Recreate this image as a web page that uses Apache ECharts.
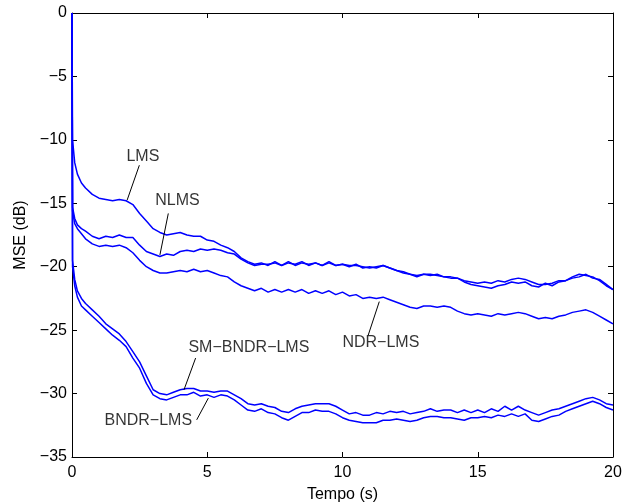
<!DOCTYPE html>
<html>
<head>
<meta charset="utf-8">
<script src="https://cdn.jsdelivr.net/npm/echarts@6/dist/echarts.min.js"></script>
<style>
  html, body { margin: 0; padding: 0; background: #fff; }
  #chart { width: 630px; height: 504px; }
</style>
</head>
<body>
<div id="chart"></div>
<script>
// tempo (s)
var tempo = [0, 0.02, 0.1, 0.2, 0.35, 0.5, 0.75, 1.0, 1.25, 1.5, 1.75, 2.0, 2.25, 2.5, 2.75, 3.0,
  3.25, 3.5, 3.75, 4.0, 4.25, 4.5, 4.75, 5.0, 5.25, 5.5, 5.75, 6.0, 6.25, 6.5, 6.75, 7.0,
  7.25, 7.5, 7.75, 8.0, 8.25, 8.5, 8.75, 9.0, 9.25, 9.5, 9.75, 10.0, 10.25, 10.5, 10.75, 11.0,
  11.25, 11.5, 11.75, 12.0, 12.25, 12.5, 12.75, 13.0, 13.25, 13.5, 13.75, 14.0, 14.25, 14.5, 14.75, 15.0,
  15.25, 15.5, 15.75, 16.0, 16.25, 16.5, 16.75, 17.0, 17.25, 17.5, 17.75, 18.0, 18.25, 18.5, 18.75, 19.0,
  19.25, 19.5, 19.75, 20.0];

// MSE (dB)
var lms = [0, -10.0, -11.8, -12.7, -13.4, -13.8, -14.3, -14.6, -14.7, -14.8, -14.7, -14.8, -15.1, -15.8, -16.4, -17.0,
  -17.3, -17.5, -17.4, -17.3, -17.5, -17.6, -17.6, -17.9, -18.0, -18.3, -18.5, -18.8, -19.3, -19.6, -19.8, -19.7,
  -19.9, -19.6, -19.9, -19.7, -19.8, -19.6, -19.9, -19.7, -19.9, -19.6, -19.9, -19.8, -20.0, -19.8, -20.1, -20.0,
  -20.1, -19.9, -20.1, -20.3, -20.5, -20.6, -20.8, -20.6, -20.7, -20.6, -20.8, -20.8, -20.9, -21.1, -21.2, -21.3,
  -21.2, -21.3, -21.1, -21.2, -21.0, -20.9, -21.0, -21.2, -21.4, -21.4, -21.3, -21.1, -21.1, -20.8, -20.6, -20.7,
  -20.8, -21.1, -21.5, -21.8];
var nlms = [0, -15.3, -16.2, -16.7, -17.0, -17.2, -17.6, -17.8, -17.6, -17.7, -17.5, -17.7, -17.7, -18.3, -18.8, -19.0,
  -19.2, -19.0, -19.1, -18.8, -18.7, -18.8, -18.6, -18.7, -18.6, -18.7, -18.9, -19.0, -19.4, -19.7, -19.9, -19.8,
  -19.8, -19.7, -19.9, -19.6, -19.9, -19.7, -19.8, -19.7, -19.9, -19.7, -19.9, -19.8, -19.9, -19.9, -20.0, -20.1,
  -20.0, -19.9, -20.1, -20.3, -20.4, -20.6, -20.7, -20.6, -20.6, -20.7, -20.8, -20.9, -20.9, -21.2, -21.4, -21.5,
  -21.6, -21.7, -21.5, -21.4, -21.2, -21.3, -21.2, -21.5, -21.6, -21.3, -21.5, -21.2, -21.1, -20.9, -20.8, -20.6,
  -20.9, -21.0, -21.4, -21.8];
var ndrLms = [0, -15.6, -16.6, -17.0, -17.4, -17.8, -18.2, -18.4, -18.3, -18.4, -18.3, -18.5, -18.9, -19.5, -20.0, -20.3,
  -20.5, -20.5, -20.4, -20.3, -20.4, -20.2, -20.4, -20.3, -20.5, -20.7, -20.8, -21.2, -21.5, -21.7, -21.9, -21.7,
  -22.0, -21.8, -22.0, -21.8, -22.0, -21.8, -22.1, -21.9, -22.1, -21.9, -22.2, -22.0, -22.3, -22.2, -22.5, -22.4,
  -22.5, -22.4, -22.6, -22.8, -23.0, -23.2, -23.3, -23.1, -23.1, -23.2, -23.1, -23.2, -23.5, -23.7, -23.8, -23.7,
  -23.8, -23.9, -23.7, -23.8, -23.7, -23.6, -23.7, -23.9, -24.1, -24.0, -24.1, -23.9, -23.8, -23.6, -23.5, -23.4,
  -23.6, -23.9, -24.2, -24.5];
var smBndrLms = [0, -19.5, -21.0, -21.9, -22.5, -22.9, -23.4, -23.9, -24.5, -24.9, -25.3, -25.9, -26.7, -27.5, -28.6, -29.7,
  -30.0, -30.1, -29.9, -29.7, -29.6, -29.6, -29.8, -29.8, -29.9, -29.8, -29.8, -30.1, -30.4, -30.8, -30.9, -30.8,
  -31.0, -31.1, -31.4, -31.5, -31.2, -31.0, -30.9, -30.8, -30.8, -30.8, -31.0, -31.3, -31.6, -31.5, -31.7, -31.7,
  -31.5, -31.6, -31.4, -31.5, -31.4, -31.6, -31.5, -31.4, -31.2, -31.4, -31.3, -31.3, -31.5, -31.3, -31.5, -31.3,
  -31.5, -31.2, -31.4, -31.0, -31.3, -31.0, -31.3, -31.5, -31.7, -31.5, -31.3, -31.2, -31.0, -30.8, -30.6, -30.4,
  -30.3, -30.5, -30.8, -30.9];
var bndrLms = [0, -20.0, -21.5, -22.4, -23.1, -23.4, -23.9, -24.4, -24.9, -25.4, -25.8, -26.3, -27.2, -28.0, -29.2, -30.1,
  -30.4, -30.5, -30.3, -30.1, -30.1, -29.9, -30.2, -30.1, -30.3, -30.1, -30.2, -30.5, -30.9, -31.3, -31.4, -31.2,
  -31.5, -31.6, -31.9, -32.1, -31.8, -31.5, -31.5, -31.3, -31.4, -31.4, -31.6, -31.9, -32.1, -32.2, -32.3, -32.3,
  -32.3, -32.1, -32.1, -32.0, -32.1, -32.2, -32.1, -31.9, -31.8, -31.8, -31.9, -31.9, -32.0, -32.1, -31.9, -31.9,
  -31.8, -31.9, -31.7, -31.8, -31.6, -31.8, -31.6, -32.1, -32.2, -32.0, -31.8, -31.7, -31.4, -31.2, -31.0, -30.8,
  -30.6, -30.8, -31.1, -31.3];

// rotulos: texto, posicao do texto, ponta da seta (em coordenadas dos dados)
var labelNames = ["LMS", "NLMS", "NDR\u2212LMS", "SM\u2212BNDR\u2212LMS", "BNDR\u2212LMS"];
var labelPos = [[2.62, -11.3], [3.9, -14.8], [11.42, -26.0], [6.54, -26.4], [2.82, -32.15]];
var arrowFrom = [[2.49, -12.0], [3.56, -15.8], [10.95, -25.4], [4.57, -27.2], [4.61, -32.07]];
var arrowTo = [[2.04, -14.74], [3.25, -19.07], [11.36, -22.75], [4.14, -29.7], [5.04, -30.36]];

function zip(xs, ys) {
  return xs.map(function (x, i) { return [x, ys[i]]; });
}

var chart = echarts.init(document.getElementById("chart"));
var font = "Liberation Sans, Arial, Helvetica, sans-serif";

function curve(name, values) {
  return {
    type: "line",
    name: name,
    data: zip(tempo, values),
    showSymbol: false,
    symbol: "none",
    lineStyle: { color: "#0000ff", width: 1.5 },
    silent: true,
    animation: false,
    z: 2,
  };
}

function boxAxis(pos) {
  return {
    type: "value",
    position: pos,
    axisLine: { show: true, onZero: false, lineStyle: { color: "#000", width: 1 } },
    axisTick: { show: true, inside: true, length: 5, lineStyle: { color: "#000" } },
    axisLabel: { show: false },
    splitLine: { show: false },
  };
}

var xTop = boxAxis("top");
xTop.min = 0; xTop.max = 20; xTop.interval = 5;
var yRight = boxAxis("right");
yRight.min = -35; yRight.max = 0; yRight.interval = 5;

var option = {
  backgroundColor: "#fff",
  animation: false,
  textStyle: { fontFamily: font },
  grid: { left: 72, right: 17, top: 13, bottom: 47, outerBoundsMode: "none", containLabel: false },
  xAxis: [
    {
      type: "value",
      min: 0, max: 20, interval: 5,
      name: "Tempo (s)",
      nameLocation: "middle",
      nameGap: 30,
      nameTextStyle: { color: "#000", fontSize: 16, fontFamily: font },
      axisLine: { show: true, onZero: false, lineStyle: { color: "#000", width: 1 } },
      axisTick: { show: true, inside: true, length: 5, lineStyle: { color: "#000" } },
      axisLabel: { color: "#000", fontSize: 16, margin: 8, fontFamily: font },
      splitLine: { show: false },
    },
    xTop,
  ],
  yAxis: [
    {
      type: "value",
      min: -35, max: 0, interval: 5,
      name: "MSE (dB)",
      nameLocation: "middle",
      nameGap: 40,
      nameRotate: 90,
      nameTextStyle: { color: "#000", fontSize: 16, fontFamily: font },
      axisLine: { show: true, onZero: false, lineStyle: { color: "#000", width: 1 } },
      axisTick: { show: true, inside: true, length: 5, lineStyle: { color: "#000" } },
      axisLabel: {
        color: "#000", fontSize: 16, margin: 5, fontFamily: font,
        formatter: function (v) { return v < 0 ? "\u2212" + Math.abs(v) : String(v); },
      },
      splitLine: { show: false },
    },
    yRight,
  ],
  series: [
    curve("LMS", lms),
    curve("NLMS", nlms),
    curve("NDR-LMS", ndrLms),
    curve("SM-BNDR-LMS", smBndrLms),
    curve("BNDR-LMS", bndrLms),
    {
      type: "lines",
      coordinateSystem: "cartesian2d",
      silent: true,
      animation: false,
      lineStyle: { color: "#000", width: 1, opacity: 1 },
      data: arrowFrom.map(function (p, i) { return { coords: [p, arrowTo[i]] }; }),
      z: 3,
    },
    {
      type: "scatter",
      symbolSize: 0,
      silent: true,
      animation: false,
      data: labelNames.map(function (n, i) { return { name: n, value: labelPos[i] }; }),
      label: {
        show: true,
        position: "inside",
        formatter: "{b}",
        color: "#000",
        textBorderWidth: 0,
        textBorderColor: "transparent",
        fontSize: 16,
        fontFamily: font,
      },
      z: 4,
    },
  ],
};

chart.setOption(option);
</script>
</body>
</html>
